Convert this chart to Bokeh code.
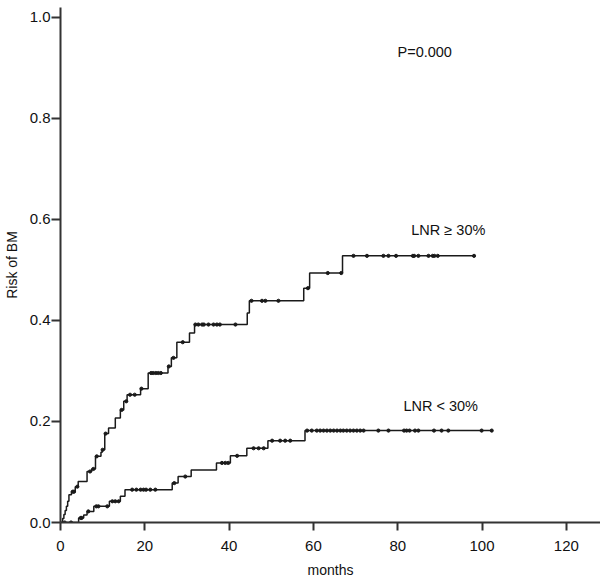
import numpy as np
from bokeh.plotting import figure
from bokeh.models import Range1d, FixedTicker, NumeralTickFormatter
from bokeh.core.properties import value
from bokeh.embed import file_html
from bokeh.resources import INLINE

# ---- data ----
# LNR >= 30% : event times (months) and cumulative risk
hi_t = [0, 0.5, 0.8, 1.1, 1.4, 1.7, 2.0, 2.6, 3.5, 4.2, 6.3, 7.4, 8.3, 9.6, 9.9, 10.5, 11.4,
        13.0, 14.2, 15.0, 15.8, 19.0, 20.8, 25.5, 26.3, 27.6, 30.6, 31.8, 44.3, 44.8,
        57.7, 59.1, 66.9, 98.1]
hi_v = [0, 0.008, 0.016, 0.024, 0.032, 0.042, 0.055, 0.061, 0.071, 0.081, 0.101, 0.106, 0.131,
        0.139, 0.144, 0.176, 0.187, 0.207, 0.223, 0.240, 0.253, 0.265, 0.296, 0.309, 0.326,
        0.357, 0.375, 0.392, 0.415, 0.439, 0.464, 0.494, 0.528, 0.528]
hi_cens = [2.9, 3.2, 4.0, 7.0, 7.8, 8.6, 10.0, 10.7, 14.5, 15.6, 16.5, 17.6, 19.2, 21.5, 22.0,
           22.6, 23.2, 23.8, 25.7, 26.8, 29.0, 32.0, 32.7, 33.6, 34.0, 35.1, 36.3, 37.1, 37.8,
           41.5, 45.3, 47.8, 48.6, 51.7, 58.7, 63.4, 66.6, 69.5, 72.7, 76.6, 77.8, 79.6, 83.6,
           83.9, 84.9, 87.3, 88.3, 88.7, 89.5, 98.1]

# LNR < 30%
lo_t = [0, 4.3, 5.5, 6.3, 7.9, 11.6, 14.2, 15.3, 26.5, 27.9, 31.0, 37.0, 40.3, 44.2, 49.2,
        58.0, 102.3]
lo_v = [0, 0.009, 0.015, 0.022, 0.032, 0.042, 0.052, 0.065, 0.078, 0.091, 0.104, 0.118,
        0.132, 0.147, 0.162, 0.182, 0.182]
lo_cens = [1.0, 2.5, 4.8, 5.0, 6.6, 8.5, 9.0, 11.1, 12.3, 13.0, 13.8, 17.0, 18.0, 19.0, 19.7,
           20.3, 21.3, 22.5, 27.0, 29.6, 38.3, 39.1, 39.8, 41.9, 45.8, 47.0, 48.2, 50.2, 52.1,
           53.3, 54.5, 58.5, 59.6, 60.8, 61.6, 62.4, 63.2, 64.0, 64.8, 65.6, 66.4, 67.1, 67.9,
           68.7, 69.5, 70.3, 71.1, 71.9, 75.4, 77.8, 81.5, 82.1, 82.8, 84.1, 84.9, 88.6, 90.4,
           92.0, 99.9, 102.3]

x_ticks = [0, 20, 40, 60, 80, 100, 120]
y_ticks = [0.0, 0.2, 0.4, 0.6, 0.8, 1.0]


def step_value(times, vals, at):
    idx = np.searchsorted(np.asarray(times), np.asarray(at), side="right") - 1
    return list(np.asarray(vals)[idx])


FONT = "Liberation Sans"

p = figure(frame_width=540, frame_height=515, output_backend="svg", toolbar_location=None,
           x_range=Range1d(0, 128.1), y_range=Range1d(0, 1.0198),
           min_border_left=60, min_border_right=0, min_border_top=7, min_border_bottom=55)
p.outline_line_color = None
p.xgrid.visible = False
p.ygrid.visible = False
p.background_fill_color = "white"
p.border_fill_color = "white"

line_col = "#1a1a1a"
p.step(hi_t, hi_v, mode="after", line_color=line_col, line_width=1.5)
p.step(lo_t, lo_v, mode="after", line_color=line_col, line_width=1.5)
p.scatter(hi_cens, step_value(hi_t, hi_v, hi_cens), marker="circle", size=3.2,
          fill_color=line_col, line_color=line_col)
p.scatter(lo_cens, step_value(lo_t, lo_v, lo_cens), marker="circle", size=3.2,
          fill_color=line_col, line_color=line_col)

txt = dict(text_font=value(FONT), text_font_size="14.5px", text_color="#111111",
           text_align="center", text_baseline="middle")
p.text(x=[86.4], y=[0.932], text=["P=0.000"], **txt)
p.text(x=[92.0], y=[0.579], text=["LNR \u2265 30%"], **txt)
p.text(x=[90.2], y=[0.231], text=["LNR < 30%"], **txt)

for ax in (p.xaxis[0], p.yaxis[0]):
    ax.axis_line_color = "#333333"
    ax.axis_line_width = 2
    ax.major_tick_line_color = "#333333"
    ax.major_tick_line_width = 2
    ax.major_tick_in = 0
    ax.minor_tick_line_color = None
    ax.major_label_text_font = FONT
    ax.major_label_text_font_size = "15px"
    ax.major_label_text_color = "#111111"
    ax.axis_label_text_font = FONT
    ax.axis_label_text_font_size = "14px"
    ax.axis_label_text_font_style = "normal"
    ax.axis_label_text_color = "#111111"

p.xaxis.ticker = FixedTicker(ticks=x_ticks)
p.yaxis.ticker = FixedTicker(ticks=y_ticks)
p.yaxis.formatter = NumeralTickFormatter(format="0.0")
p.xaxis.major_tick_out = 8
p.yaxis.major_tick_out = 9
p.xaxis.major_label_standoff = 10
p.yaxis.major_label_standoff = 1
p.xaxis.axis_label = "months"
p.yaxis.axis_label = "Risk of BM"
p.xaxis.axis_label_standoff = 8
p.yaxis.axis_label_standoff = 7

open("out.html", "w").write(file_html(p, INLINE))
